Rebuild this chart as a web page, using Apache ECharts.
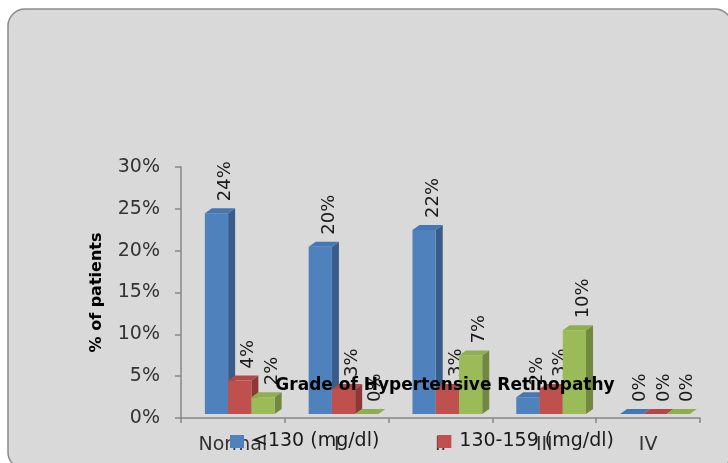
<!DOCTYPE html>
<html lang="en">
<head>
    <meta charset="UTF-8">
    <title>Grade of Hypertensive Retinopathy</title>
    <script src="https://cdn.jsdelivr.net/npm/echarts@6/dist/echarts.min.js"></script>
    <style>
        html, body { margin: 0; padding: 0; background: #ffffff; }
        #main { width: 728px; height: 463px; }
    </style>
</head>
<body>
<div id="main"></div>

<script type="text/javascript">
    // data
    var grades = ['Normal', 'I', 'II', 'III', 'IV'];
    var seriesNames = ['<130 (mg/dl)', '130-159 (mg/dl)', '\u2265160 (mg/dl)'];
    var below130 = [24, 20, 22, 2, 0];
    var from130to159 = [4, 3, 3, 3, 0];
    var above160 = [2, 0, 7, 10, 0];
    var yTicks = [0, 5, 10, 15, 20, 25, 30];

    // front / side / top colours of the 3d columns
    var faces = [
        ['#4f81bd', '#385d8a', '#4677b2'],
        ['#c0504d', '#8c3836', '#b24845'],
        ['#9bbb59', '#71883f', '#8eae4f']
    ];

    var font = '"DejaVu Sans", sans-serif';

    function column3d(idx) {
        return function (params, api) {
            var cat = api.value(0);
            var val = api.value(1);
            var base = api.coord([cat, 0]);
            var top = api.coord([cat, val]);
            var bw = api.size([1, 0])[0];
            var w = bw * 0.224;
            var x = base[0] - bw * 0.27 + idx * w;
            var lift = 4, dx = 7, dy = 5;
            var y0 = base[1] - lift;
            var y1 = top[1] - lift;
            var c = faces[idx];
            return {
                type: 'group',
                children: [
                    {
                        type: 'polygon',
                        shape: {points: [[x + w, y1], [x + w + dx, y1 - dy], [x + w + dx, y0 - dy], [x + w, y0]]},
                        style: {fill: c[1]}
                    },
                    {
                        type: 'rect',
                        shape: {x: x, y: y1, width: w, height: y0 - y1},
                        style: {fill: c[0]}
                    },
                    {
                        type: 'polygon',
                        shape: {points: [[x, y1], [x + dx, y1 - dy], [x + w + dx, y1 - dy], [x + w, y1]]},
                        style: {fill: c[2]}
                    },
                    {
                        type: 'text',
                        x: x + w / 2 + 9,
                        y: y1 - 12,
                        rotation: Math.PI / 2,
                        style: {
                            text: val + '%',
                            fill: '#1a1a1a',
                            font: '18px ' + font,
                            align: 'left',
                            verticalAlign: 'middle'
                        }
                    }
                ]
            };
        };
    }

    function toPairs(values) {
        return values.map(function (v, i) { return [i, v]; });
    }

    var allValues = [below130, from130to159, above160];

    var series = allValues.map(function (values, idx) {
        return {
            name: seriesNames[idx],
            type: 'custom',
            renderItem: column3d(idx),
            itemStyle: {color: faces[idx][0]},
            encode: {x: 0, y: 1},
            data: toPairs(values),
            z: 2
        };
    });

    var myChart = echarts.init(document.getElementById('main'));

    var option = {
        animation: false,
        backgroundColor: '#ffffff',
        graphic: [{
            type: 'rect',
            z: -10,
            shape: {x: 8, y: 9, width: 724, height: 460, r: 17},
            style: {fill: '#d9d9d9', stroke: '#8a8a8a', lineWidth: 1.5}
        }],
        title: {
            text: 'Grade of Hypertensive Retinopathy',
            left: 445,
            top: 377,
            textAlign: 'center',
            padding: 0,
            textStyle: {fontFamily: font, fontSize: 17, fontWeight: 'bold', color: '#000'}
        },
        legend: {
            data: seriesNames.slice(0, 2),
            left: 230,
            top: 432,
            padding: 0,
            icon: 'rect',
            itemWidth: 14,
            itemHeight: 13,
            itemGap: 58,
            textStyle: {fontFamily: font, fontSize: 19, color: '#1a1a1a', padding: [0, 0, 0, 3]}
        },
        grid: {left: 181, right: 28, top: 167, bottom: 45, containLabel: false},
        xAxis: {
            type: 'category',
            data: grades,
            boundaryGap: true,
            axisLine: {lineStyle: {color: '#868686', width: 1.5}},
            axisTick: {show: true, length: 5, alignWithLabel: false, lineStyle: {color: '#868686', width: 1.5}},
            axisLabel: {margin: 18, fontFamily: font, fontSize: 19, color: '#333'}
        },
        yAxis: {
            type: 'value',
            min: yTicks[0],
            max: yTicks[yTicks.length - 1],
            interval: yTicks[1] - yTicks[0],
            name: '% of patients',
            nameLocation: 'middle',
            nameGap: 76,
            nameTextStyle: {fontFamily: font, fontSize: 16, fontWeight: 'bold', color: '#000'},
            splitLine: {show: false},
            axisLine: {show: true, lineStyle: {color: '#868686', width: 1.5}},
            axisTick: {show: true, length: 6, lineStyle: {color: '#868686', width: 1.5}},
            axisLabel: {margin: 21, fontFamily: font, fontSize: 19, color: '#333', formatter: '{value}%'}
        },
        series: series
    };

    myChart.setOption(option);
</script>

</body>
</html>
